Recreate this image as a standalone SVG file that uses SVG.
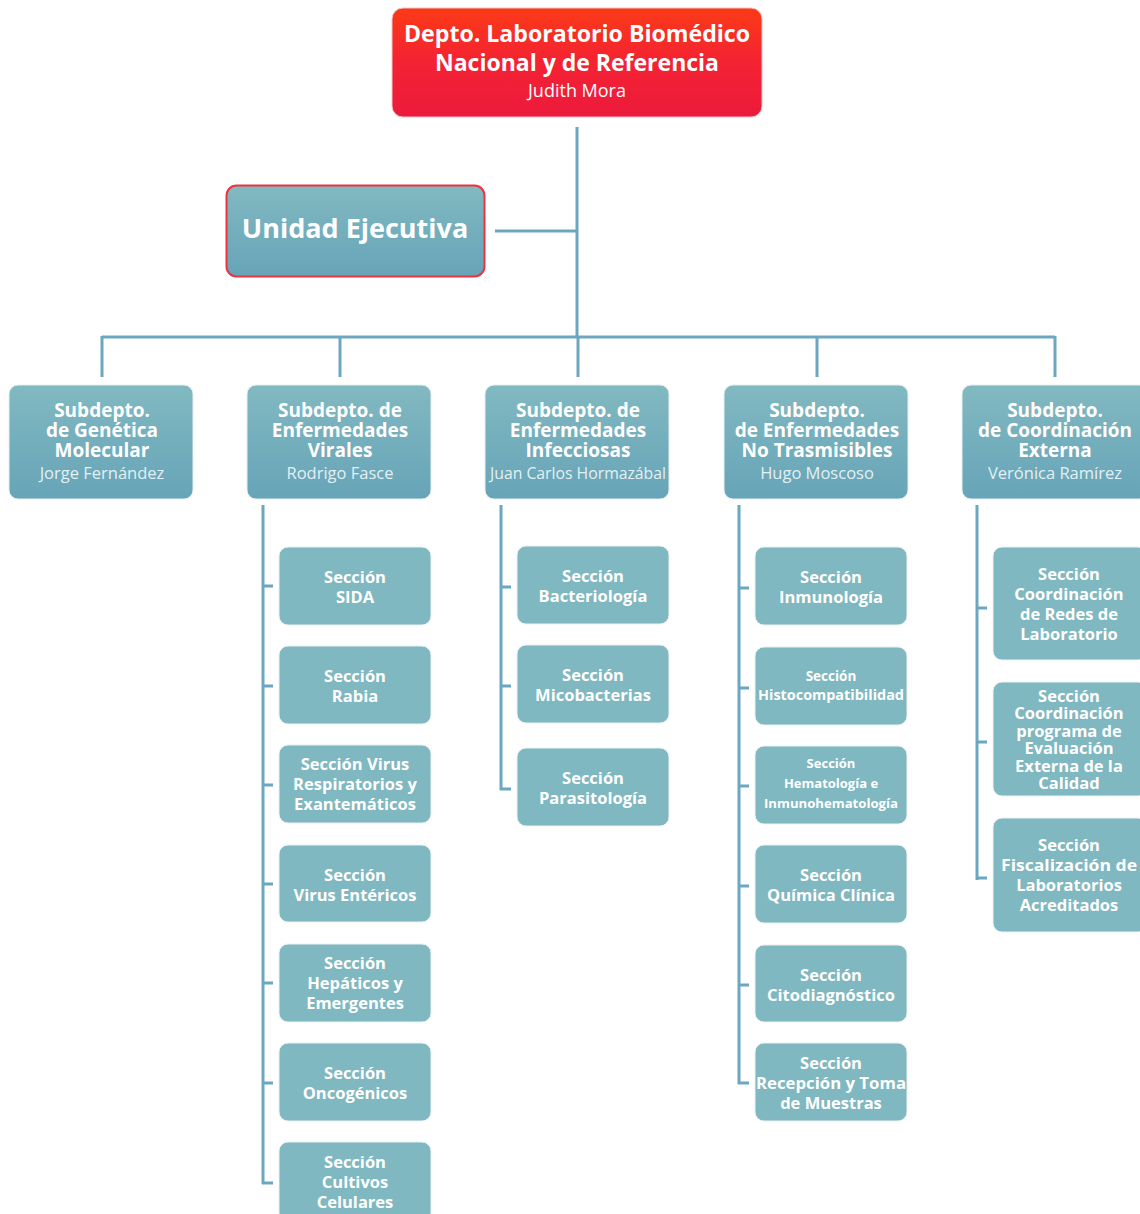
<svg xmlns="http://www.w3.org/2000/svg" width="1140" height="1214" viewBox="0 0 1140 1214">
<defs>
<linearGradient id="gRed" x1="0" y1="0" x2="0" y2="1">
<stop offset="0" stop-color="#fb3a17"/>
<stop offset="0.5" stop-color="#f42232"/>
<stop offset="1" stop-color="#ec1a3c"/>
</linearGradient>
<linearGradient id="gTeal" x1="0" y1="0" x2="0" y2="1">
<stop offset="0" stop-color="#82b9c1"/>
<stop offset="1" stop-color="#66a4b8"/>
</linearGradient>
<style>
.ln{stroke:#6ba7c0;stroke-width:3;fill:none}
.sub{fill:url(#gTeal);stroke:#e4eef1;stroke-width:1}
.sec{fill:#7fb8c0;stroke:#e8f1f3;stroke-width:1}
text{font-family:"Open Sans","Noto Sans","Liberation Sans",sans-serif;text-anchor:middle;fill:#ffffff}
.b{font-weight:700}
.t20{font-size:19px;font-weight:700}
.nm{font-size:16.5px;fill:#e3f0f3;font-weight:400}
.s{font-size:16.5px;font-weight:700}
</style>
</defs>
<g id="connectors">
<path class="ln" d="M577 127V337M495 231H577M102 337H1055M102 336V377M340 336V377M578 336V377M817 336V377M1055 336V377"/>
<path class="ln" d="M263 505V1184M262 586H273M262 686H273M262 785H273M262 884H273M262 983H273M262 1083H273M262 1183H273"/>
<path class="ln" d="M501 505V790M500 587H511M500 686H511M500 789H511"/>
<path class="ln" d="M739 505V1084M738 588H749M738 688H749M738 786H749M738 886H749M738 985H749M738 1083H749"/>
<path class="ln" d="M977 505V880M976 608H987M976 742H987M976 878H987"/>
</g>
<g id="depto">
<rect x="392" y="8" width="370" height="109" rx="11" fill="url(#gRed)" stroke="#f3c3c8" stroke-width="1"/>
<text x="577" y="42" class="b" font-size="24" font-weight="600" textLength="346" lengthAdjust="spacingAndGlyphs">Depto. Laboratorio Biomédico</text>
<text x="577" y="71" class="b" font-size="24" font-weight="600" textLength="284" lengthAdjust="spacingAndGlyphs">Nacional y de Referencia</text>
<text x="577" y="97" font-size="18" fill="#fcd6dc">Judith Mora</text>
</g>
<g id="unidad">
<rect x="226.5" y="185.5" width="258" height="91" rx="10" fill="url(#gTeal)" stroke="#ef3242" stroke-width="2"/>
<text x="355" y="238" class="b" font-size="27" font-weight="600">Unidad Ejecutiva</text>
</g>
<g id="sub-genetica">
<rect class="sub" x="9" y="385" width="184" height="114" rx="9"/>
<text class="t20" x="102" y="417">Subdepto.</text>
<text class="t20" x="102" y="437">de Genética</text>
<text class="t20" x="102" y="457">Molecular</text>
<text class="nm" x="102" y="479">Jorge Fernández</text>
</g>
<g id="sub-virales">
<rect class="sub" x="247" y="385" width="184" height="114" rx="9"/>
<text class="t20" x="340" y="417">Subdepto. de</text>
<text class="t20" x="340" y="437">Enfermedades</text>
<text class="t20" x="340" y="457">Virales</text>
<text class="nm" x="340" y="479">Rodrigo Fasce</text>
</g>
<g id="sub-infecciosas">
<rect class="sub" x="485" y="385" width="184" height="114" rx="9"/>
<text class="t20" x="578" y="417">Subdepto. de</text>
<text class="t20" x="578" y="437">Enfermedades</text>
<text class="t20" x="578" y="457">Infecciosas</text>
<text class="nm" x="578" y="479" textLength="176" lengthAdjust="spacingAndGlyphs">Juan Carlos Hormazábal</text>
</g>
<g id="sub-notrasmisibles">
<rect class="sub" x="724" y="385" width="184" height="114" rx="9"/>
<text class="t20" x="817" y="417">Subdepto.</text>
<text class="t20" x="817" y="437">de Enfermedades</text>
<text class="t20" x="817" y="457">No Trasmisibles</text>
<text class="nm" x="817" y="479">Hugo Moscoso</text>
</g>
<g id="sub-coordinacion">
<rect class="sub" x="962" y="385" width="186" height="114" rx="9"/>
<text class="t20" x="1055" y="417">Subdepto.</text>
<text class="t20" x="1055" y="437">de Coordinación</text>
<text class="t20" x="1055" y="457">Externa</text>
<text class="nm" x="1055" y="479">Verónica Ramírez</text>
</g>
<g id="sec-sida"><rect class="sec" x="279" y="547" width="152" height="78" rx="9"/>
<text class="s" x="355" y="583">Sección</text><text class="s" x="355" y="603">SIDA</text></g>
<g id="sec-rabia"><rect class="sec" x="279" y="646" width="152" height="78" rx="9"/>
<text class="s" x="355" y="682">Sección</text><text class="s" x="355" y="702">Rabia</text></g>
<g id="sec-virusresp"><rect class="sec" x="279" y="745" width="152" height="78" rx="9"/>
<text class="s" x="355" y="770">Sección Virus</text><text class="s" x="355" y="790">Respiratorios y</text><text class="s" x="355" y="810">Exantemáticos</text></g>
<g id="sec-virusent"><rect class="sec" x="279" y="845" width="152" height="77" rx="9"/>
<text class="s" x="355" y="881">Sección</text><text class="s" x="355" y="901">Virus Entéricos</text></g>
<g id="sec-hepaticos"><rect class="sec" x="279" y="944" width="152" height="78" rx="9"/>
<text class="s" x="355" y="969">Sección</text><text class="s" x="355" y="989">Hepáticos y</text><text class="s" x="355" y="1009">Emergentes</text></g>
<g id="sec-oncogenicos"><rect class="sec" x="279" y="1043" width="152" height="78" rx="9"/>
<text class="s" x="355" y="1079">Sección</text><text class="s" x="355" y="1099">Oncogénicos</text></g>
<g id="sec-cultivos"><rect class="sec" x="279" y="1142" width="152" height="80" rx="9"/>
<text class="s" x="355" y="1168">Sección</text><text class="s" x="355" y="1188">Cultivos</text><text class="s" x="355" y="1208">Celulares</text></g>
<g id="sec-bacteriologia"><rect class="sec" x="517" y="546" width="152" height="78" rx="9"/>
<text class="s" x="593" y="582">Sección</text><text class="s" x="593" y="602">Bacteriología</text></g>
<g id="sec-micobacterias"><rect class="sec" x="517" y="645" width="152" height="78" rx="9"/>
<text class="s" x="593" y="681">Sección</text><text class="s" x="593" y="701">Micobacterias</text></g>
<g id="sec-parasitologia"><rect class="sec" x="517" y="748" width="152" height="78" rx="9"/>
<text class="s" x="593" y="784">Sección</text><text class="s" x="593" y="804">Parasitología</text></g>
<g id="sec-inmunologia"><rect class="sec" x="755" y="547" width="152" height="78" rx="9"/>
<text class="s" x="831" y="583">Sección</text><text class="s" x="831" y="603">Inmunología</text></g>
<g id="sec-histo"><rect class="sec" x="755" y="647" width="152" height="78" rx="9"/>
<text class="b" font-size="13.5" x="831" y="681">Sección</text><text class="b" font-size="13.5" x="831" y="700" textLength="146" lengthAdjust="spacingAndGlyphs">Histocompatibilidad</text></g>
<g id="sec-hemato"><rect class="sec" x="755" y="746" width="152" height="78" rx="9"/>
<text class="b" font-size="13" x="831" y="768">Sección</text><text class="b" font-size="13" x="831" y="788">Hematología e</text><text class="b" font-size="13" x="831" y="808" textLength="134" lengthAdjust="spacingAndGlyphs">Inmunohematología</text></g>
<g id="sec-quimica"><rect class="sec" x="755" y="845" width="152" height="78" rx="9"/>
<text class="s" x="831" y="881">Sección</text><text class="s" x="831" y="901">Química Clínica</text></g>
<g id="sec-cito"><rect class="sec" x="755" y="945" width="152" height="77" rx="9"/>
<text class="s" x="831" y="981">Sección</text><text class="s" x="831" y="1001">Citodiagnóstico</text></g>
<g id="sec-recepcion"><rect class="sec" x="755" y="1043" width="152" height="78" rx="9"/>
<text class="s" x="831" y="1069">Sección</text><text class="s" x="831" y="1089" textLength="150" lengthAdjust="spacingAndGlyphs">Recepción y Toma</text><text class="s" x="831" y="1109">de Muestras</text></g>
<g id="sec-redes"><rect class="sec" x="993" y="547" width="154" height="113" rx="9"/>
<text class="s" x="1069" y="580">Sección</text><text class="s" x="1069" y="600">Coordinación</text><text class="s" x="1069" y="620">de Redes de</text><text class="s" x="1069" y="640">Laboratorio</text></g>
<g id="sec-programa"><rect class="sec" x="993" y="682" width="154" height="114" rx="9"/>
<text class="s" x="1069" y="702">Sección</text><text class="s" x="1069" y="719">Coordinación</text><text class="s" x="1069" y="737">programa de</text><text class="s" x="1069" y="754">Evaluación</text><text class="s" x="1069" y="772">Externa de la</text><text class="s" x="1069" y="789">Calidad</text></g>
<g id="sec-fiscalizacion"><rect class="sec" x="993" y="818" width="154" height="114" rx="9"/>
<text class="s" x="1069" y="851">Sección</text><text class="s" x="1069" y="871" textLength="136" lengthAdjust="spacingAndGlyphs">Fiscalización de</text><text class="s" x="1069" y="891">Laboratorios</text><text class="s" x="1069" y="911">Acreditados</text></g>
</svg>
